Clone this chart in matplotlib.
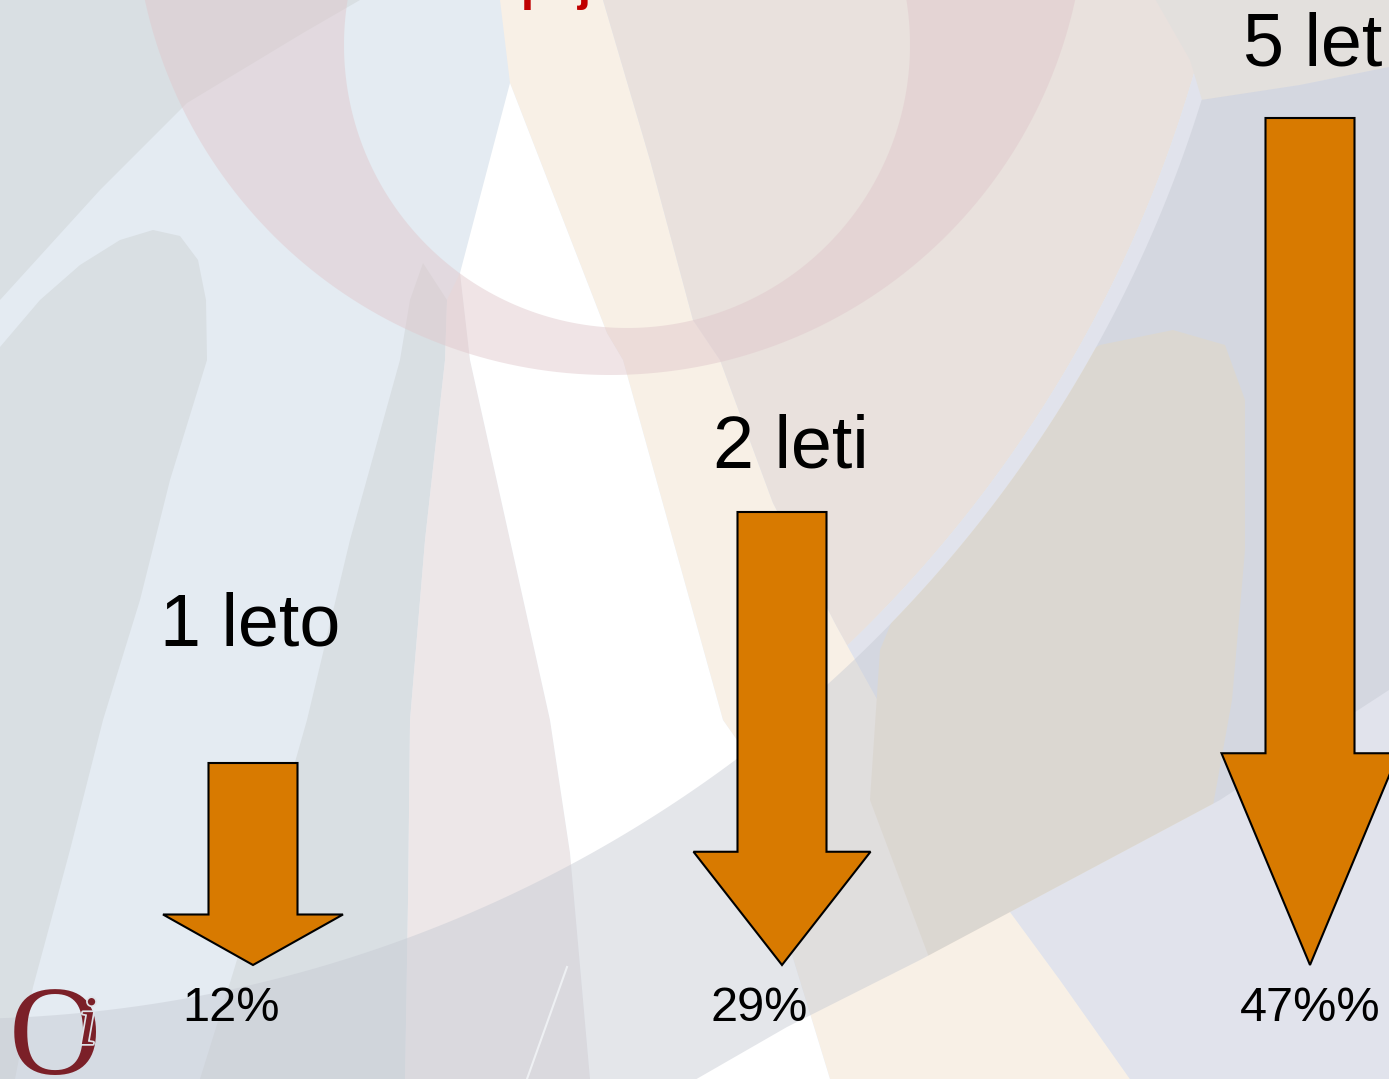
import numpy as np
import matplotlib
matplotlib.use("Agg")
import matplotlib.pyplot as plt
from matplotlib.patches import Polygon, PathPatch
from matplotlib.path import Path
import matplotlib.patheffects as pe

# ---------------- data ----------------
periods = ["1 leto", "2 leti", "5 let"]
values = [12, 29, 47]
value_labels = ["12%", "29%", "47%%"]

# ---------------- layout (pixels of the 1389x1079 slide) ----------------
W, H = 1389, 1079
arrow_cx = [253, 782, 1310]
arrow_len = [202, 453, 847]
arrow_head_w = [180, 177, 177]
arrow_tip = 965
shaft_w = 89
period_xy = [(250, 645), (791, 467), (1313, 66)]
label_xy = [(231, 1021), (759, 1021), (1310, 1021)]

fig = plt.figure(figsize=(W / 100, H / 100), dpi=100)
ax = fig.add_axes([0, 0, 1, 1])
ax.set_xlim(0, W)
ax.set_ylim(H, 0)
ax.axis("off")


def poly(pts, color, z, alpha=1.0, clip=None):
    p = Polygon(pts, closed=True, facecolor=color, edgecolor="none",
                alpha=alpha, zorder=z)
    ax.add_patch(p)
    if clip is not None:
        p.set_clip_path(clip)
    return p


def circle_pts(cx, cy, r, t0, t1, n=200):
    t = np.radians(np.linspace(t0, t1, n))
    return np.column_stack([cx + r * np.cos(t), cy + r * np.sin(t)])


# ---------------- background ----------------
poly([(0, 0), (W, 0), (W, H), (0, H)], "#e4ebf2", 0)

# dark grey regions
poly([(0, 0), (360, 0), (303, 33), (187, 103), (100, 190), (0, 300)], "#d9dfe3", 1)
poly([(0, 347), (40, 300), (80, 265), (120, 240), (153, 230), (180, 236),
      (198, 260), (206, 300), (207, 360), (170, 480), (140, 600), (103, 720),
      (70, 850), (33, 987), (15, H), (0, H)], "#d9dfe3", 1)
poly([(423, 263), (447, 300), (445, 360), (425, 540), (410, 720), (408, 900),
      (405, H), (200, H), (233, 973), (270, 850), (307, 720), (350, 540),
      (400, 360), (410, 300)], "#d9dfe3", 1)
# pinkish stripe
poly([(447, 300), (460, 273), (470, 360), (550, 720), (570, 853), (590, H),
      (405, H), (408, 900), (410, 720), (425, 540), (445, 360)], "#ede7e8", 1)
# beige band
B_right = [(603, 0), (650, 160), (693, 320), (720, 360), (773, 503),
           (837, 627), (950, 830), (1060, 980), (1130, H)]
poly([(500, 0)] + B_right + [(830, H), (760, 850), (737, 740), (723, 720),
                             (623, 360), (607, 333), (510, 83)], "#f8f0e6", 1)
# white beam
poly([(510, 83), (607, 333), (623, 360), (723, 720), (737, 740), (760, 850),
      (830, H), (590, H), (570, 853), (550, 720), (470, 360), (460, 273)],
     "#ffffff", 1)

# big arc C1
C1c, C1r = (-45, -286), 1290
arc1 = circle_pts(C1c[0], C1c[1], C1r, 8, 93)
inside_C1 = Polygon(np.vstack([arc1, [(-200, -400)]]), closed=True,
                    transform=ax.transData)
outside_C1 = Polygon(np.vstack([arc1, [(-200, 1300), (1600, 1300),
                                       (1600, -400)]]), closed=True,
                     transform=ax.transData)

right_region = [(603, -50)] + B_right + [(1130, H + 50), (W + 50, H + 50),
                                        (W + 50, -50)]
poly(right_region, "#e9e1dd", 2, clip=inside_C1)
poly(right_region, "#e1e3ec", 2, clip=outside_C1)

# translucent band between the two arcs
arc_in = circle_pts(C1c[0], C1c[1], 1305, 17.2, 93)
band = np.vstack([
    arc_in,
    [(-100, 1010), (-100, 1200), (640, 1200), (660, 1100), (787, 1027),
     (920, 960), (1220, 800), (1389, 690), (1500, 620), (1500, 60),
     (1389, 67), (1300, 85)]])
band_clip = Polygon(band, closed=True, transform=ax.transData)

# beige blob (behind the translucent band)
poly([(1040, 380), (1100, 345), (1173, 330), (1225, 345), (1245, 400),
      (1245, 550), (1232, 700), (1205, 850), (1150, 950), (1050, 1000),
      (930, 960), (870, 800), (880, 650), (950, 480)], "#efe3d0", 3,
     clip=band_clip)

# top-right light area
poly([(1150, -10), (1500, -10), (1500, 60), (1389, 67), (1300, 85),
      (1202, 100), (1190, 60)], "#e3e0dd", 3)

poly(band, "#c6cad3", 4, alpha=0.47)

# faint light line near the bottom
ax.plot([527, 567], [H, 967], color="#eef0f3", lw=1.5, zorder=4.5)

# pink ring (crescent)
outer = circle_pts(610, -101, 476, 0, 360, 300)
inner = circle_pts(627, 45, 283, 360, 0, 300)
verts = np.vstack([outer, outer[:1], inner, inner[:1]])
codes = ([Path.MOVETO] + [Path.LINETO] * (len(outer) - 1) + [Path.CLOSEPOLY]
         + [Path.MOVETO] + [Path.LINETO] * (len(inner) - 1) + [Path.CLOSEPOLY])
ring = PathPatch(Path(verts, codes), facecolor="#e0c7cb", edgecolor="none",
                 alpha=0.48, zorder=5)
ax.add_patch(ring)

# cut-off red title (only descenders visible)
ax.text(521, 0, "pojav", color="#c00000", fontsize=34, fontweight="bold",
        family="Liberation Sans", ha="left", va="baseline", zorder=6)

# ---------------- arrows ----------------
for cx, L, hw in zip(arrow_cx, arrow_len, arrow_head_w):
    top = arrow_tip - L
    hb = arrow_tip - 0.25 * L
    pts = [(cx - shaft_w / 2, top), (cx + shaft_w / 2, top),
           (cx + shaft_w / 2, hb), (cx + hw / 2, hb), (cx, arrow_tip),
           (cx - hw / 2, hb), (cx - shaft_w / 2, hb)]
    ax.add_patch(Polygon(pts, closed=True, facecolor="#d87a00",
                         edgecolor="black", linewidth=1.5, joinstyle="miter",
                         zorder=7))

# ---------------- texts ----------------
for name, (x, y) in zip(periods, period_xy):
    ax.text(x, y, name, fontsize=53, family="Liberation Sans", color="black",
            ha="center", va="baseline", zorder=8)
for lab, (x, y) in zip(value_labels, label_xy):
    ax.text(x, y, lab, fontsize=35, family="Liberation Sans", color="black",
            ha="center", va="baseline", zorder=8)

# logo
ax.text(9, 1074, "O", fontsize=92, family="Liberation Serif", color="#7b2028",
        ha="left", va="baseline", zorder=8)
ax.text(78, 1044, "i", fontsize=50, family="Liberation Serif", style="italic",
        color="#7b2028", ha="left", va="baseline", zorder=9,
        path_effects=[pe.withStroke(linewidth=2.5, foreground="#dfe3e8")])

fig.savefig("out.png", dpi=100)
